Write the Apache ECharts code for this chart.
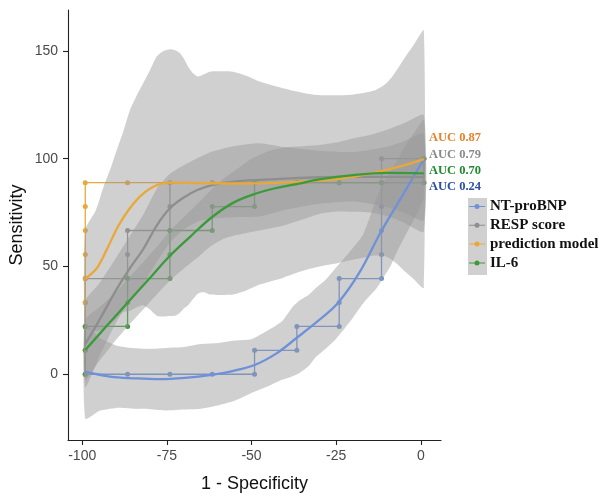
<!DOCTYPE html>
<html><head><meta charset="utf-8">
<script src="https://cdn.jsdelivr.net/npm/echarts@6/dist/echarts.min.js"></script>
<style>html,body{margin:0;padding:0;background:#fff}#c{width:599px;height:494px}</style>
</head><body><div id="c"></div>
<script>
// ---- tick labels ----
const xTicks = [-100, -75, -50, -25, 0];
const yTicks = [0, 50, 100, 150];
const seriesNames = ['NT-proBNP', 'RESP score', 'prediction model', 'IL-6'];
const aucLabels = ['AUC 0.87', 'AUC 0.79', 'AUC 0.70', 'AUC 0.24'];

// ---- ROC step paths (x = 1 - specificity, y = sensitivity) ----
const ntStepX = [-99.1, -86.6, -74.1, -61.6, -49.1, -49.1, -36.6, -36.6, -24.1, -24.1, -24.1, -11.6, -11.6, -11.6, -11.6, -11.6, 0.9, 0.9];
const ntStepY = [0, 0, 0, 0, 0, 11.1, 11.1, 22.2, 22.2, 33.3, 44.4, 44.4, 55.6, 66.7, 77.8, 88.9, 88.9, 100];
const respStepX = [-99.1, -99.1, -99.1, -99.1, -99.1, -86.6, -86.6, -86.6, -74.1, -74.1, -74.1, -61.6, -49.1, -36.6, -24.1, -11.6, -11.6, 0.9];
const respStepY = [0, 11.1, 22.2, 33.3, 44.4, 44.4, 55.6, 66.7, 66.7, 77.8, 88.9, 88.9, 88.9, 88.9, 88.9, 88.9, 100, 100];
const predStepX = [-99.1, -99.1, -99.1, -99.1, -99.1, -99.1, -99.1, -99.1, -99.1, -86.6, -74.1, -61.6, -49.1, -36.6, -24.1, -11.6, 0.9, 0.9];
const predStepY = [0, 11.1, 22.2, 33.3, 44.4, 55.6, 66.7, 77.8, 88.9, 88.9, 88.9, 88.9, 88.9, 88.9, 88.9, 88.9, 88.9, 100];
const il6StepX = [-99.1, -99.1, -99.1, -86.6, -86.6, -86.6, -74.1, -74.1, -74.1, -61.6, -61.6, -49.1, -49.1, -36.6, -24.1, -11.6, 0.9, 0.9];
const il6StepY = [0, 11.1, 22.2, 22.2, 33.3, 44.4, 44.4, 55.6, 66.7, 66.7, 77.8, 77.8, 88.9, 88.9, 88.9, 88.9, 88.9, 100];

// ---- smoothed curves ----
const ntCurveX = [-99.1, -91.8, -84.4, -77.1, -69.7, -61.8, -55.6, -49.1, -42.6, -36.8, -30, -24.4, -18.2, -11.8, -5.3, 0.9];
const ntCurveY = [1.2, -1.1, -1.9, -2.3, -1.7, -0.3, 1.5, 4.3, 9.7, 16.7, 25.2, 33.2, 47, 66, 83.2, 99.8];
const respCurveX = [-99.1, -95, -90, -86, -82, -78, -74.1, -70, -66, -61.6, -55, -47.6, -40, -30, -20, -10, 0.9];
const respCurveY = [14, 25, 39, 49, 58, 69, 77, 82, 85.5, 87.8, 89.4, 90.2, 90.8, 91.4, 91.6, 91.6, 91.5];
const predCurveX = [-99.1, -95.7, -92.8, -88.9, -83.9, -79, -74.1, -65, -55, -45, -35, -25, -18, -11.6, -5, 0.9];
const predCurveY = [44.4, 49.2, 57.7, 70, 80.9, 87, 88.9, 88.7, 88.5, 88.7, 89.4, 90.6, 92.2, 94.2, 96.9, 99.8];
const il6CurveX = [-99.1, -93, -86.6, -80, -74.1, -68, -62, -55.6, -49.3, -43, -36, -30, -20, -10, 0.9];
const il6CurveY = [11.3, 22, 33.2, 44.7, 55, 64, 72.5, 79.4, 83.5, 86.3, 88.5, 90.4, 92.4, 93.4, 93.2];

// ---- confidence ribbons ----
const predBandX = [-99.1, -96, -93.7, -91.5, -89.8, -87.8, -85.9, -84, -82, -80, -78, -76, -74.1, -72.5, -71.2, -70, -68.7, -67.2, -65.8, -64, -62.4, -59, -55.5, -51.5, -47.6, -40.8, -36, -31, -26, -21.2, -17, -13.3, -10.5, -8.4, -6.5, -4.5, -2, 0.9];
const predBandHi = [67, 76, 87, 96, 104, 113, 122.6, 129, 135, 141, 147.4, 150, 150.8, 150.3, 149, 146.5, 142.7, 139.5, 138.1, 139.2, 140.4, 140.6, 140.4, 138.5, 135.8, 132.7, 131, 129.6, 129.5, 129.6, 130.5, 131.9, 134.5, 138.1, 142.5, 147.4, 153, 159.5];
const predBandLo = [21.8, 20, 21, 24, 26, 29, 29.4, 31, 32, 30, 27.2, 26.8, 27, 27.1, 28.4, 30.5, 32, 35, 37.5, 38, 37, 36.8, 37, 38.9, 41.6, 44.7, 47.4, 49.6, 51.1, 52.8, 54.1, 55.1, 54.7, 52.9, 50.5, 47.4, 44, 40.1];
const ntBandX = [-99.1, -95, -90, -85, -80, -75, -70, -65, -60, -55, -50, -45, -41, -38, -36, -33, -31, -28, -25, -21, -17, -13, -11, -9, -7, -5, -2, 0.9];
const ntBandHi = [23, 17, 13.4, 12.2, 11.8, 12.2, 12.6, 14, 14.5, 15.7, 16.3, 20.5, 24.6, 31, 34, 37, 40, 44, 49.5, 56.8, 65, 82, 89, 94, 99, 105, 112, 118];
const ntBandLo = [-20.6, -17, -15.6, -16, -16.2, -16.8, -16.4, -16, -14.5, -12.3, -8.7, -5.5, -2.6, -1, 0.5, 4, 8, 12, 16.5, 24.2, 33, 40, 45, 50, 57, 63, 72, 82];
const respBandX = [-99.1, -95, -90, -86, -82, -78, -74.1, -70, -66, -61.6, -55, -47.6, -40, -30, -20, -10, -5, 0.9];
const respBandHi = [34, 42, 54, 64, 74, 86, 93, 97, 100.2, 103.3, 105.9, 107.2, 105.3, 103.7, 103.1, 105.6, 108.1, 111.5];
const respBandLo = [-6, 8, 24, 34, 42, 52, 61, 67, 70.8, 72.3, 72.9, 73.2, 76.3, 79.1, 80.1, 77.6, 75.1, 71.5];
const il6BandX = [-99.1, -95, -90, -86.6, -82, -78, -74.1, -70, -66, -62, -58, -55, -50, -45, -40, -35, -30, -25, -20, -15, -10, -5, 0.9];
const il6BandHi = [25.3, 31, 38, 44.2, 52, 59, 66.5, 73, 79, 85.5, 91, 94.4, 100, 103.5, 105.3, 105.8, 106.4, 107.5, 109.4, 111, 113.4, 116.4, 120.2];
const il6BandLo = [-2.7, 6, 16, 22.2, 30, 37, 43.5, 49, 54, 59.5, 63, 64.4, 66, 67.5, 69.3, 71.8, 74.4, 75.5, 75.4, 75, 73.4, 70.4, 66.2];

const colors = { nt: '#6e91d8', resp: '#8e8e8e', pred: '#e9a83a', il6: '#3b9b3b' };
const aucColors = ['#e8822a', '#8a8a8a', '#1f8a2e', '#2d4ea6'];
const bandFill = 'rgba(150,150,150,0.45)';

const zip = (xs, ys) => xs.map((x, i) => [x, ys[i]]);

function stepSeries(name, xs, ys, color) {
  return { type: 'line', name: name, data: zip(xs, ys), z: 1, symbol: 'circle', symbolSize: 5, showSymbol: true,
    itemStyle: { color: color }, lineStyle: { color: color, width: 1.3 }, silent: true, animation: false };
}
function curveSeries(name, xs, ys, color) {
  return { type: 'line', name: name, data: zip(xs, ys), z: 4, smooth: 0.35, showSymbol: false, symbol: 'none',
    itemStyle: { color: color }, lineStyle: { color: color, width: 2.3 }, silent: true, animation: false };
}
function bandSeries(name, xs, hi, lo) {
  return { type: 'custom', name: name, coordinateSystem: 'cartesian2d', z: 3, silent: true, animation: false,
    data: [[xs[0], hi[0]]],
    renderItem: function (params, api) {
      const pts = [];
      for (let i = 0; i < xs.length; i++) pts.push(api.coord([xs[i], hi[i]]));
      for (let i = xs.length - 1; i >= 0; i--) pts.push(api.coord([xs[i], lo[i]]));
      return { type: 'polygon', shape: { points: pts, smooth: 0.2 }, style: { fill: bandFill } };
    } };
}

const legendIcon = 'path://M0,2L5.7,2L5.7,3L0,3Z M10.3,2L16,2L16,3L10.3,3Z M10.5,2.5A2.5,2.5,0,1,1,5.5,2.5A2.5,2.5,0,1,1,10.5,2.5Z';

const chart = echarts.init(document.getElementById('c'), null, { renderer: 'canvas' });
chart.setOption({
  backgroundColor: '#ffffff',
  animation: false,
  grid: { left: 68, right: 158, top: 10, bottom: 54, containLabel: false, outerBoundsMode: 'none' },
  xAxis: {
    type: 'value', min: -104.2, max: 5.97,
    name: '1 - Specificity', nameLocation: 'middle', nameGap: 35,
    nameTextStyle: { fontFamily: 'Liberation Sans', fontSize: 18, color: '#111' },
    axisLine: { onZero: false, lineStyle: { color: '#222', width: 1.1 } },
    axisTick: { customValues: xTicks, length: 5, lineStyle: { color: '#222', width: 1.1 } },
    axisLabel: { customValues: xTicks, margin: 9, fontFamily: 'Liberation Sans', fontSize: 14, color: '#4a4a4a' },
    splitLine: { show: false }
  },
  yAxis: {
    type: 'value', min: -30.5, max: 169,
    name: 'Sensitivity', nameLocation: 'middle', nameGap: 42, nameRotate: 90, nameMoveOverlap: false,
    nameTextStyle: { fontFamily: 'Liberation Sans', fontSize: 18, color: '#111' },
    axisLine: { onZero: false, lineStyle: { color: '#222', width: 1.1 } },
    axisTick: { customValues: yTicks, length: 5, lineStyle: { color: '#222', width: 1.1 } },
    axisLabel: { customValues: yTicks, margin: 10, fontFamily: 'Liberation Sans', fontSize: 14, color: '#4a4a4a' },
    splitLine: { show: false }
  },
  legend: {
    data: seriesNames, orient: 'vertical', left: 469, top: 199, padding: 0, selectedMode: false,
    itemWidth: 16, itemHeight: 5, itemGap: 3.8, icon: legendIcon,
    textStyle: { fontFamily: 'Liberation Serif', fontWeight: 'bold', fontSize: 15, color: '#111' }
  },
  graphic: [
    { type: 'rect', z: -1, silent: true, shape: { x: 468, y: 198, width: 19, height: 77 }, style: { fill: '#d0d0d0' } },
    { type: 'text', silent: true, left: 429, top: 131, style: { text: aucLabels[0], fill: aucColors[0], font: 'bold 12.5px "Liberation Serif"' } },
    { type: 'text', silent: true, left: 429, top: 148, style: { text: aucLabels[1], fill: aucColors[1], font: 'bold 12.5px "Liberation Serif"' } },
    { type: 'text', silent: true, left: 429, top: 164, style: { text: aucLabels[2], fill: aucColors[2], font: 'bold 12.5px "Liberation Serif"' } },
    { type: 'text', silent: true, left: 429, top: 180, style: { text: aucLabels[3], fill: aucColors[3], font: 'bold 12.5px "Liberation Serif"' } }
  ],
  series: [
    stepSeries('NT-proBNP steps', ntStepX, ntStepY, colors.nt),
    stepSeries('RESP score steps', respStepX, respStepY, colors.resp),
    stepSeries('prediction model steps', predStepX, predStepY, colors.pred),
    stepSeries('IL-6 steps', il6StepX, il6StepY, colors.il6),
    bandSeries('NT-proBNP band', ntBandX, ntBandHi, ntBandLo),
    bandSeries('RESP score band', respBandX, respBandHi, respBandLo),
    bandSeries('prediction model band', predBandX, predBandHi, predBandLo),
    bandSeries('IL-6 band', il6BandX, il6BandHi, il6BandLo),
    curveSeries(seriesNames[0], ntCurveX, ntCurveY, colors.nt),
    curveSeries(seriesNames[1], respCurveX, respCurveY, colors.resp),
    curveSeries(seriesNames[2], predCurveX, predCurveY, colors.pred),
    curveSeries(seriesNames[3], il6CurveX, il6CurveY, colors.il6)
  ]
});
</script></body></html>
